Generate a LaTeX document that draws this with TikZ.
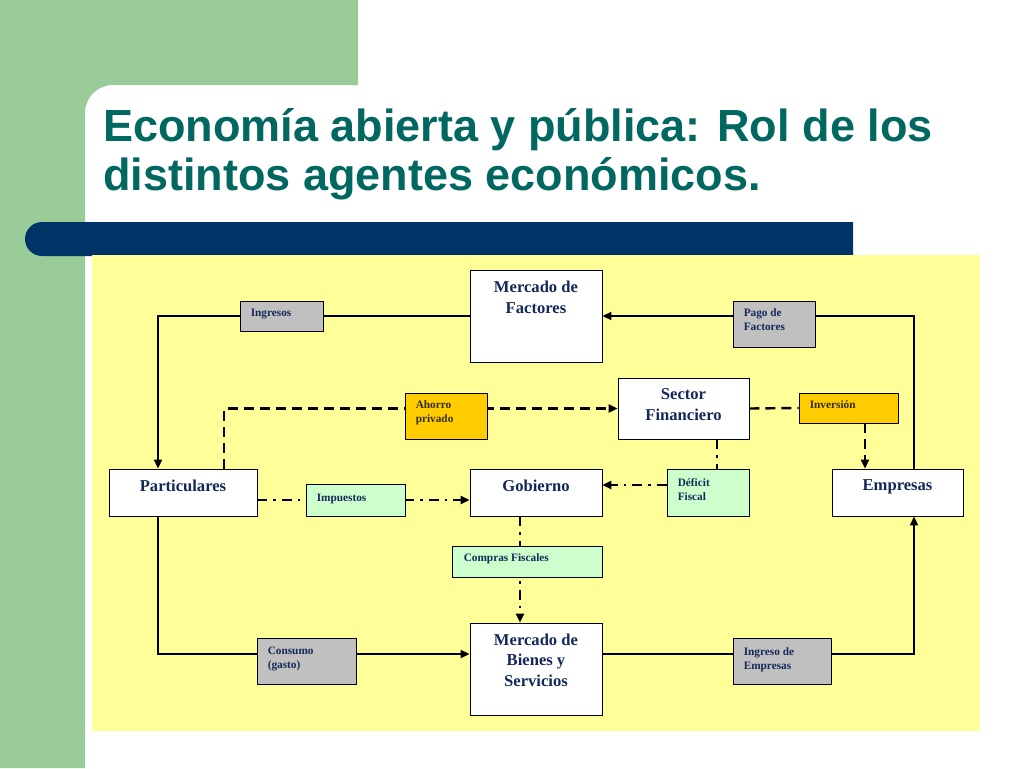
\documentclass[tikz,border=0pt]{standalone}
\usepackage{fontspec}
\setmainfont{Liberation Serif}
\newfontfamily\titlefont{Liberation Sans}
\usetikzlibrary{arrows.meta}
\pgfdeclarelayer{back}
\pgfdeclarelayer{lines}
\pgfsetlayers{back,lines,main}
\definecolor{sgreen}{RGB}{153,204,153}
\definecolor{barblue}{RGB}{0,51,102}
\definecolor{yel}{RGB}{255,255,153}
\definecolor{gbox}{RGB}{192,192,192}
\definecolor{obox}{RGB}{255,204,0}
\definecolor{lgbox}{RGB}{204,255,204}
\definecolor{navy}{RGB}{20,40,90}
\definecolor{olivedark}{RGB}{50,45,20}
\definecolor{teal}{RGB}{0,104,96}
\begin{document}
\begin{tikzpicture}[x=1pt,y=-1pt,
  box/.style={draw=black, line width=0.9pt, inner sep=0pt, rectangle},
  bigtxt/.style={font=\bfseries\fontsize{16.6}{20.5}\selectfont, text=navy, align=center, inner sep=0pt, anchor=north},
  smtxt/.style={font=\bfseries\fontsize{11.3}{14}\selectfont, text=navy, align=left, inner sep=0pt, anchor=north west},
  titlestyle/.style={font=\titlefont\bfseries\fontsize{45}{49}\selectfont, text=teal, inner sep=0pt, anchor=base west},
  flow/.style={draw=black, line width=2pt},
  arr/.style={-{Triangle[length=9pt,width=8pt]}},
  dsh/.style={draw=black, line width=2.4pt, dash pattern=on 10pt off 6pt},
  dshd/.style={draw=black, line width=2.4pt, dash pattern=on 10pt off 6pt on 2.5pt off 6pt}
]
\useasboundingbox (0,0) rectangle (1024,768);
\begin{pgfonlayer}{back}
\fill[white] (0,0) rectangle (1024,768);
\fill[sgreen] (0,0) -- (358,0) -- (358,85) -- (113,85) .. controls (97.5,85) and (85,97.5) .. (85,113) -- (85,768) -- (0,768) -- cycle;
\fill[barblue] (853,222) -- (42,222) .. controls (32.6,222) and (25,229.6) .. (25,239) .. controls (25,248.4) and (32.6,256) .. (42,256) -- (853,256) -- cycle;
\fill[yel] (92,255) rectangle (980,731);
\end{pgfonlayer}

\node[titlestyle] (t1) at (103,141) {Economía abierta y pública: Rol de los};
\node[titlestyle] (t2) at (103,190) {distintos agentes económicos.};

% main boxes
\node[box, fill=white, minimum width=132pt, minimum height=92pt] (MF) at (536,316) {};
\node[box, fill=white, minimum width=131pt, minimum height=61pt] (SF) at (683.5,408.5) {};
\node[box, fill=white, minimum width=148pt, minimum height=47pt] (Par) at (183,492.5) {};
\node[box, fill=white, minimum width=132pt, minimum height=47pt] (Gob) at (536,492.5) {};
\node[box, fill=white, minimum width=131pt, minimum height=47pt] (Emp) at (897.5,492.5) {};
\node[box, fill=white, minimum width=132pt, minimum height=92pt] (MB) at (536,669) {};

\node[bigtxt] (MFt) at ([yshift=-11.3pt]MF.north) {Mercado de\\Factores};
\node[bigtxt] (SFt) at ([yshift=-10.8pt]SF.north) {Sector\\Financiero};
\node[bigtxt] (Part) at ([yshift=-11.3pt]Par.north) {Particulares};
\node[bigtxt] (Gobt) at ([yshift=-11.3pt]Gob.north) {Gobierno};
\node[bigtxt] (Empt) at ([yshift=-11.3pt]Emp.north) {Empresas};
\node[bigtxt] (MBt) at ([yshift=-11pt]MB.north) {Mercado de\\Bienes y\\Servicios};

% label boxes
\node[box, fill=gbox, minimum width=83pt, minimum height=30pt] (Ing) at (281.5,316) {};
\node[box, fill=gbox, minimum width=82pt, minimum height=46pt] (PF) at (774,324) {};
\node[box, fill=obox, minimum width=82pt, minimum height=46pt] (AP) at (446,416) {};
\node[box, fill=obox, minimum width=99pt, minimum height=30pt] (Inv) at (848.5,408) {};
\node[box, fill=lgbox, minimum width=99pt, minimum height=32pt] (Imp) at (355.5,500) {};
\node[box, fill=lgbox, minimum width=82pt, minimum height=47pt] (Def) at (708,492.5) {};
\node[box, fill=lgbox, minimum width=150pt, minimum height=31pt] (CF) at (527,561.5) {};
\node[box, fill=gbox, minimum width=99pt, minimum height=46pt] (Con) at (306.5,661) {};
\node[box, fill=gbox, minimum width=98pt, minimum height=46pt] (IE) at (782,661) {};

\node[smtxt] (Ingt) at ([xshift=11pt,yshift=-8.3pt]Ing.north west) {Ingresos};
\node[smtxt] (PFt) at ([xshift=11pt,yshift=-8.1pt]PF.north west) {Pago de\\Factores};
\node[smtxt, text=olivedark] (APt) at ([xshift=11pt,yshift=-8.4pt]AP.north west) {Ahorro\\privado};
\node[smtxt, text=olivedark] (Invt) at ([xshift=11pt,yshift=-7.4pt]Inv.north west) {Inversión};
\node[smtxt] (Impt) at ([xshift=11pt,yshift=-9.9pt]Imp.north west) {Impuestos};
\node[smtxt] (Deft) at ([xshift=11pt,yshift=-9.8pt]Def.north west) {Déficit\\Fiscal};
\node[smtxt] (CFt) at ([xshift=12pt,yshift=-8pt]CF.north west) {Compras Fiscales};
\node[smtxt] (Cont) at ([xshift=11pt,yshift=-9.4pt]Con.north west) {Consumo\\(gasto)};
\node[smtxt] (IEt) at ([xshift=11pt,yshift=-9.4pt]IE.north west) {Ingreso de\\Empresas};

% connectors
\begin{pgfonlayer}{lines}
\draw[flow, arr] (MF.west) -| ([xshift=-25pt]Par.north);
\draw[flow, arr] ([xshift=16.5pt]Emp.north) |- (MF.east);
\draw[dsh, arr] ([xshift=41pt]Par.north) |- (SF.west);
\draw[dsh] (SF.east) -- (Inv.west);
\draw[dsh, arr] ([xshift=16.5pt]Inv.south) -- ([xshift=16.5pt]Inv.south |- Emp.north);
\draw[dshd] ([xshift=33.5pt]SF.south) -- ([xshift=33.5pt]SF.south |- Def.north);
\draw[dshd, arr] ([yshift=7.5pt]Def.west) -- ([yshift=7.5pt]Def.west -| Gob.east);
\draw[dshd, arr] ([yshift=-7.5pt]Par.east) -- ([yshift=-7.5pt]Par.east -| Gob.west);
\draw[dshd, arr] ([xshift=-16pt]Gob.south) -- ([xshift=-16pt]Gob.south |- MB.north);
\draw[flow, arr] ([xshift=-25pt]Par.south) |- ([yshift=15pt]MB.west);
\draw[flow, arr] ([yshift=15pt]MB.east) -| ([xshift=16.5pt]Emp.south);
\end{pgfonlayer}
\end{tikzpicture}
\end{document}
